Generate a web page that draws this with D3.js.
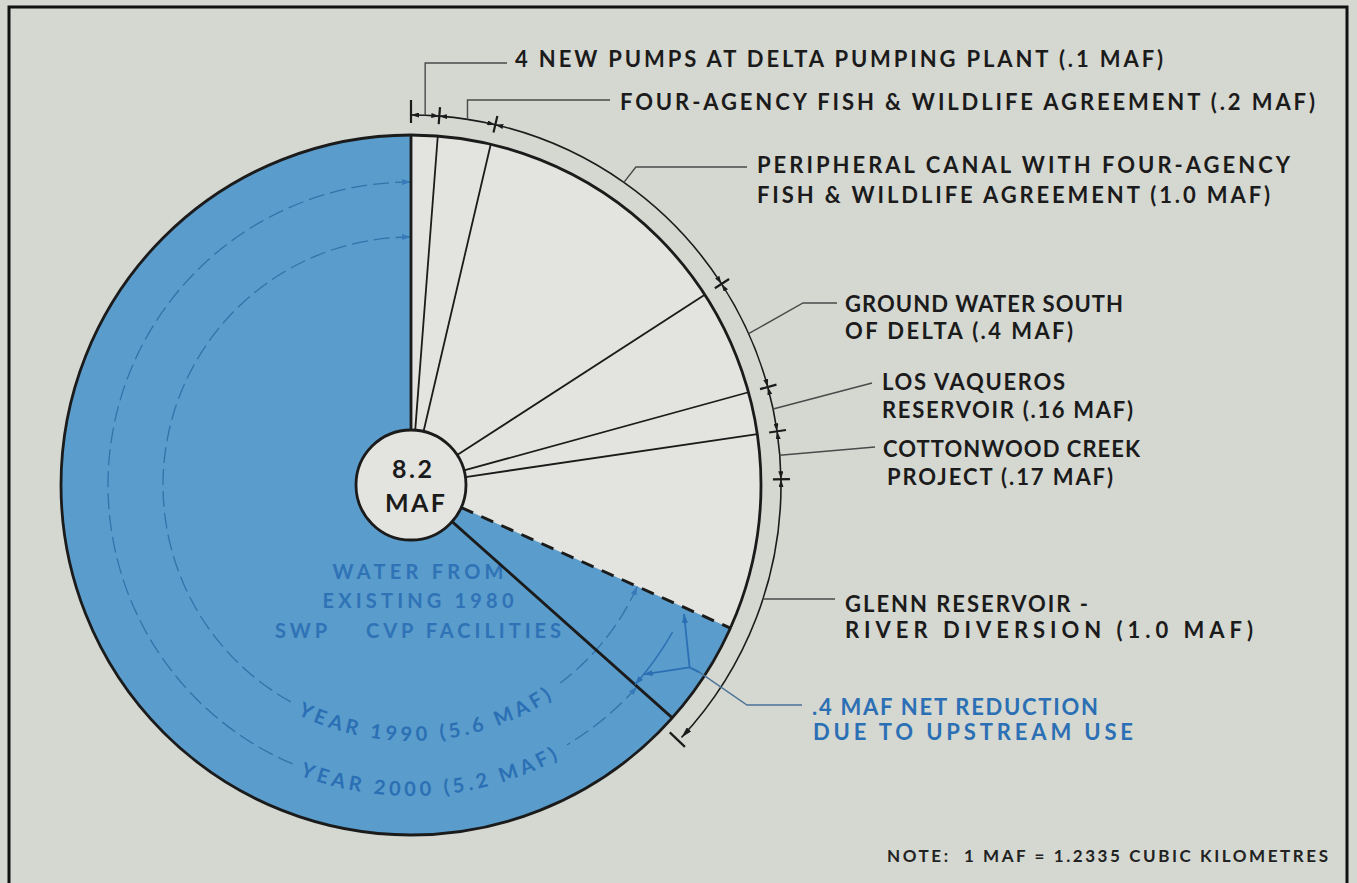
<!DOCTYPE html>
<html><head><meta charset="utf-8">
<script src="https://cdn.jsdelivr.net/npm/d3@7"></script>
<style>
html,body{margin:0;padding:0;background:#d5d7d1;}
svg{display:block;}
text{white-space:pre;}
</style></head><body>
<svg id="chart" width="1357" height="883"></svg>
<script>
// ---------- data ----------
const totalMAF = 8.2;
const newSupplyLabels = [
  ["4 NEW PUMPS AT DELTA PUMPING PLANT (.1 MAF)"],
  ["FOUR-AGENCY FISH & WILDLIFE AGREEMENT (.2 MAF)"],
  ["PERIPHERAL CANAL WITH FOUR-AGENCY", "FISH & WILDLIFE AGREEMENT (1.0 MAF)"],
  ["GROUND WATER SOUTH", "OF DELTA (.4 MAF)"],
  ["LOS VAQUEROS", "RESERVOIR (.16 MAF)"],
  ["COTTONWOOD CREEK", "PROJECT (.17 MAF)"],
  ["GLENN RESERVOIR -", "RIVER DIVERSION (1.0 MAF)"]
];
const newSupplyMAF = [0.1, 0.2, 1.0, 0.4, 0.16, 0.17, 1.0];
const existingYears = ["1990", "2000"];
const existingMAF = [5.6, 5.2];
const existingLabel = ["WATER FROM", "EXISTING 1980", "SWP    CVP FACILITIES"];
const reductionMAF = 0.4;
const reductionLabel = [".4 MAF NET REDUCTION", "DUE TO UPSTREAM USE"];
const centerLabel = ["8.2", "MAF"];
const noteLabel = "NOTE:  1 MAF = 1.2335 CUBIC KILOMETRES";

// ---------- layout ----------
const svg = d3.select("#chart");
const cx = 411, cy = 485, R = 350, Rhub = 55, Rdim = 370;
const ang = d3.scaleLinear().domain([0, totalMAF]).range([0, 2 * Math.PI]);
const P = (a, r) => [cx + r * Math.sin(a), cy - r * Math.cos(a)];
const deg = d => d * Math.PI / 180;
function arcD(r, a0, a1) {
  const p0 = P(a0, r), p1 = P(a1, r);
  const large = Math.abs(a1 - a0) > Math.PI ? 1 : 0;
  const sweep = a1 > a0 ? 1 : 0;
  return `M${p0[0]},${p0[1]}A${r},${r} 0 ${large} ${sweep} ${p1[0]},${p1[1]}`;
}
const FONT = "Lato, 'DejaVu Sans', sans-serif";
const INK = "#1b1b1b";
const BLUE_FILL = "#5a9ccb";
const BLUE_INK = "#2b6fb4";
const PALE = "#e3e4df";

const defs = svg.append("defs");
function marker(id, color, len, wid) {
  defs.append("marker").attr("id", id).attr("viewBox", "0 0 10 10")
    .attr("refX", 10).attr("refY", 5).attr("markerUnits", "userSpaceOnUse")
    .attr("markerWidth", len).attr("markerHeight", wid)
    .attr("preserveAspectRatio", "none")
    .attr("orient", "auto-start-reverse")
    .append("path").attr("d", "M0,0L10,5L0,10Z").attr("fill", color);
}
marker("arrK", INK, 8, 5);
marker("arrKbig", INK, 11, 6);
marker("arrB", BLUE_INK, 9, 6);

// frame
svg.append("rect").attr("x", 9).attr("y", 7).attr("width", 1338).attr("height", 890)
  .attr("fill", "none").attr("stroke", "#111").attr("stroke-width", 3);

const v1990 = totalMAF - existingMAF[0];
const v2000 = totalMAF - existingMAF[1];

// sectors
const arcGen = d3.arc().innerRadius(0).outerRadius(R);
const g = svg.append("g").attr("transform", `translate(${cx},${cy})`);
g.append("path").attr("d", arcGen({startAngle: 0, endAngle: ang(v1990)})).attr("fill", PALE);
g.append("path").attr("d", arcGen({startAngle: ang(v1990), endAngle: ang(totalMAF)})).attr("fill", BLUE_FILL);

// inner blue dimension arcs (year 1990 / 2000) with gaps for curved text
const yearRadius = [248, 303];
const yearGap = [[143, 209], [149, 203]];
const yearStart = [v1990, v2000];
existingMAF.forEach((m, i) => {
  const r = yearRadius[i];
  svg.append("path").attr("d", arcD(r, ang(yearStart[i]), deg(yearGap[i][0])))
    .attr("fill", "none").attr("stroke", "#2a64a0").attr("stroke-width", 1.3)
    .attr("stroke-dasharray", "16 6").attr("opacity", 0.75)
    .attr("marker-start", "url(#arrB)");
  svg.append("path").attr("d", arcD(r, deg(yearGap[i][1]), ang(totalMAF)))
    .attr("fill", "none").attr("stroke", "#2a64a0").attr("stroke-width", 1.3)
    .attr("stroke-dasharray", "16 6").attr("opacity", 0.75)
    .attr("marker-end", "url(#arrB)");
  // curved label
  const rb = r + 8;
  defs.append("path").attr("id", "yr" + i).attr("d", arcD(rb, deg(176 + 40), deg(176 - 40)));
  svg.append("text").attr("font-family", FONT).attr("font-weight", 700).attr("font-size", 20)
    .attr("fill", BLUE_INK).attr("letter-spacing", 4)
    .append("textPath").attr("href", "#yr" + i).attr("startOffset", "50%").attr("text-anchor", "middle")
    .text(`YEAR ${existingYears[i]} (${m} MAF)`);
});

// blue label in the existing-supply sector
const exY = [579, 608, 638], exW = [171, 191, 286];
existingLabel.forEach((t, i) => {
  svg.append("text").attr("x", 418).attr("y", exY[i]).attr("text-anchor", "middle")
    .attr("font-family", FONT).attr("font-weight", 700).attr("font-size", 20)
    .attr("fill", BLUE_INK).attr("opacity", 0.9)
    .attr("textLength", exW[i]).attr("lengthAdjust", "spacing").text(t);
});

// radial lines
const cum = Array.from(d3.cumsum(newSupplyMAF));
const bounds = [0, ...cum];
bounds.slice(0, 6).forEach((v, i) => {
  const a = ang(v), p0 = P(a, Rhub), p1 = P(a, R);
  svg.append("line").attr("x1", p0[0]).attr("y1", p0[1]).attr("x2", p1[0]).attr("y2", p1[1])
    .attr("stroke", INK).attr("stroke-width", i === 0 ? 2.8 : 1.8);
});
{
  const a = ang(v1990), p0 = P(a, Rhub), p1 = P(a, R);
  svg.append("line").attr("x1", p0[0]).attr("y1", p0[1]).attr("x2", p1[0]).attr("y2", p1[1])
    .attr("stroke", INK).attr("stroke-width", 3).attr("stroke-dasharray", "13 9");
  const b = ang(v2000), q0 = P(b, Rhub), q1 = P(b, R);
  svg.append("line").attr("x1", q0[0]).attr("y1", q0[1]).attr("x2", q1[0]).attr("y2", q1[1])
    .attr("stroke", INK).attr("stroke-width", 2.8);
}

// outline + hub
svg.append("circle").attr("cx", cx).attr("cy", cy).attr("r", R)
  .attr("fill", "none").attr("stroke", INK).attr("stroke-width", 2.8);
svg.append("circle").attr("cx", cx).attr("cy", cy).attr("r", Rhub)
  .attr("fill", PALE).attr("stroke", INK).attr("stroke-width", 2.8);
svg.append("text").attr("x", 412).attr("y", 478).attr("text-anchor", "middle")
  .attr("font-family", FONT).attr("font-weight", 700).attr("font-size", 25).attr("fill", INK)
  .attr("textLength", 40).attr("lengthAdjust", "spacing").text(centerLabel[0]);
svg.append("text").attr("x", 415).attr("y", 512).attr("text-anchor", "middle")
  .attr("font-family", FONT).attr("font-weight", 700).attr("font-size", 25).attr("fill", INK)
  .attr("textLength", 60).attr("lengthAdjust", "spacing").text(centerLabel[1]);

// outer dimension arc with ticks
for (let i = 0; i < bounds.length - 1; i++) {
  const last = i === bounds.length - 2;
  svg.append("path").attr("d", arcD(Rdim, ang(bounds[i]), ang(bounds[i + 1])))
    .attr("fill", "none").attr("stroke", INK).attr("stroke-width", 1.6)
    .attr("marker-start", "url(#arrK)")
    .attr("marker-end", last ? "url(#arrKbig)" : "url(#arrK)");
}
bounds.forEach((v, i) => {
  const a = ang(v);
  let r0 = Rdim - 8, r1 = Rdim + 9;
  if (i === 0) { r0 = Rdim - 8; r1 = Rdim + 15; }
  if (i === bounds.length - 1) { r0 = Rdim - 12; r1 = Rdim + 9; }
  const off = i === bounds.length - 1 ? 0.012 : 0;
  const p0 = P(a + off, r0), p1 = P(a + off, r1);
  svg.append("line").attr("x1", p0[0]).attr("y1", p0[1]).attr("x2", p1[0]).attr("y2", p1[1])
    .attr("stroke", INK).attr("stroke-width", 2.2);
});

// leaders
const mids = newSupplyMAF.map((m, i) => bounds[i] + m / 2);
const LEAD = "#4a4a4a";
function leader(pts, color) {
  svg.append("path").attr("d", d3.line()(pts)).attr("fill", "none")
    .attr("stroke", color || LEAD).attr("stroke-width", 1.4);
}
{
  let p = P(ang(mids[0]), Rdim); leader([p, [p[0], 63], [507, 63]]);
  p = P(ang(mids[1]), Rdim); leader([p, [p[0], 100], [610, 100]]);
  p = P(ang(mids[2]), Rdim); leader([p, [p[0] + 12, 167], [747, 167]]);
  p = P(ang(mids[3]), Rdim); leader([p, [803, 303], [837, 303]]);
  p = P(ang(mids[4]), Rdim); leader([p, [872, 383]]);
  p = P(ang(mids[5]), Rdim); leader([p, [875, 447]]);
  const aG = Math.acos(-(599 - cy) / Rdim);
  p = P(aG, Rdim); leader([p, [835, 599]]);
}

// labels
const labelX = [[515], [620], [757, 757], [845, 845], [882, 882], [883, 887], [845, 845]];
const labelY = [[67], [110], [173, 203], [312, 339], [390, 418], [457, 485], [612, 638]];
const labelW = [[648], [695], [533, 513], [278, 228], [183, 251], [257, 226], [243, 408]];
newSupplyLabels.forEach((lines, i) => {
  lines.forEach((t, j) => {
    svg.append("text").attr("x", labelX[i][j]).attr("y", labelY[i][j])
      .attr("font-family", FONT).attr("font-weight", 700).attr("font-size", 22).attr("fill", INK)
      .attr("textLength", labelW[i][j]).attr("lengthAdjust", "spacing").text(t);
  });
});

// reduction annotation
{
  const a0 = ang(v1990), a1 = ang(v2000);
  svg.append("path").attr("d", arcD(300, a0 + 0.09, a1)).attr("fill", "none")
    .attr("stroke", BLUE_INK).attr("stroke-width", 1.4).attr("marker-end", "url(#arrB)");
  const J = P((a0 + a1) / 2 + 0.005, 333);
  const A = P(a0 + 0.02, 302), B = P(a1 - 0.045, 300);
  svg.append("path").attr("d", d3.line()([J, A])).attr("stroke", BLUE_INK).attr("stroke-width", 1.8)
    .attr("fill", "none").attr("marker-end", "url(#arrB)");
  svg.append("path").attr("d", d3.line()([J, B])).attr("stroke", BLUE_INK).attr("stroke-width", 1.8)
    .attr("fill", "none").attr("marker-end", "url(#arrB)");
  const C = [J[0] + 10, J[1] + 5];
  svg.append("path").attr("d", d3.line()([J, C])).attr("stroke", BLUE_INK).attr("stroke-width", 1.8).attr("fill", "none");
  leader([C, [747, 705], [802, 705]], "#4b7297");
  const rX = [812, 813], rY = [715, 740], rW = [286, 320];
  reductionLabel.forEach((t, j) => {
    svg.append("text").attr("x", rX[j]).attr("y", rY[j])
      .attr("font-family", FONT).attr("font-weight", 700).attr("font-size", 22).attr("fill", BLUE_INK)
      .attr("textLength", rW[j]).attr("lengthAdjust", "spacing").text(t);
  });
}

// note
svg.append("text").attr("x", 887).attr("y", 862)
  .attr("font-family", FONT).attr("font-weight", 700).attr("font-size", 17).attr("fill", "#222")
  .attr("textLength", 441).attr("lengthAdjust", "spacing").text(noteLabel);
</script>
</body></html>
